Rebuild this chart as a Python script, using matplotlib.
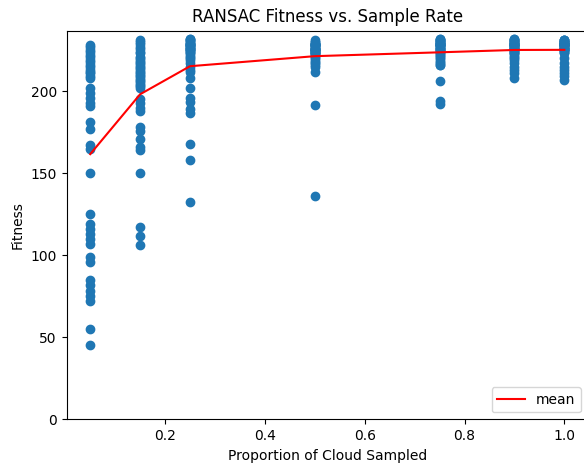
import matplotlib

matplotlib.use("Agg")
import matplotlib.pyplot as plt
import numpy as np

# sample rates and fitness of each RANSAC run
rates = [0.05, 0.15, 0.25, 0.5, 0.75, 0.9, 1.0]

fit_005 = [228, 227, 225, 224, 222, 221, 219, 218, 216, 215, 213, 212, 211, 209, 208,
           202, 199, 196, 193, 191, 181, 177, 167, 165, 150,
           125, 119, 116, 113, 110, 107, 99, 96, 85, 82, 78, 75, 72, 55, 45]
fit_015 = [231, 230, 229, 227, 226, 224, 223, 221, 220, 219, 218, 217, 216, 215,
           214, 213, 212, 211, 210, 209, 208, 207, 206, 205, 204, 203, 202,
           195, 193, 190, 188, 178, 176, 171, 166, 164, 150, 117, 112, 106]
fit_025 = [232, 232, 231, 231, 230, 230, 229, 229, 229, 228, 228, 228, 227, 227, 227,
           226, 226, 226, 225, 225, 224, 224, 223, 222, 221, 220, 219, 217, 215, 213, 212,
           208, 202, 196, 193.5, 189, 187, 168, 158, 132.5]
fit_050 = [231, 230, 230, 229, 229, 229, 228, 228, 228, 227, 227, 227, 226, 226, 226,
           226, 225, 225, 225, 225, 224, 224, 224, 223, 223, 223, 222, 222, 221, 220,
           219, 218, 217, 216, 215, 229, 212, 228, 191.5, 136]
fit_075 = [232, 232, 231, 231, 231, 230, 230, 230, 230, 229, 229, 229, 229, 228, 228,
           228, 228, 227, 227, 227, 226, 226, 226, 225, 225, 224, 224, 223, 222, 222,
           221, 220, 219, 218, 217, 216, 216, 206.5, 194, 192]
fit_090 = [232, 232, 231, 231, 231, 230, 230, 230, 230, 229, 229, 229, 229, 228, 228,
           228, 228, 227, 227, 227, 227, 226, 226, 226, 225, 225, 225, 224, 224, 223,
           223, 222, 221, 220, 219, 217, 215, 213, 211, 208]
fit_100 = [231, 231, 231, 231, 230, 230, 230, 230, 230, 229, 229, 229, 229, 229,
           228, 228, 228, 228, 228, 227, 227, 227, 227, 226, 226, 226, 226,
           225, 225, 225, 224, 224, 223, 220, 217, 215, 213, 211, 209, 207]

fitness = [fit_005, fit_015, fit_025, fit_050, fit_075, fit_090, fit_100]

fig = plt.figure(figsize=(5.84, 4.66), dpi=100)
# right edge of the axes falls just past the canvas, as in the cropped original
ax = fig.add_axes([0.1139, 0.1002, 0.893, 0.8343])

for r, vals in zip(rates, fitness):
    ax.scatter([r] * len(vals), vals, color="C0")

means = [np.mean(v) for v in fitness]
ax.plot(rates, means, "r", label="mean")

ax.set_ylim(0, 237)
ax.set_title("RANSAC Fitness vs. Sample Rate")
ax.set_xlabel("Proportion of Cloud Sampled")
ax.set_ylabel("Fitness")
ax.legend(loc="lower right")

fig.savefig("out.png", dpi=100, facecolor="white")
